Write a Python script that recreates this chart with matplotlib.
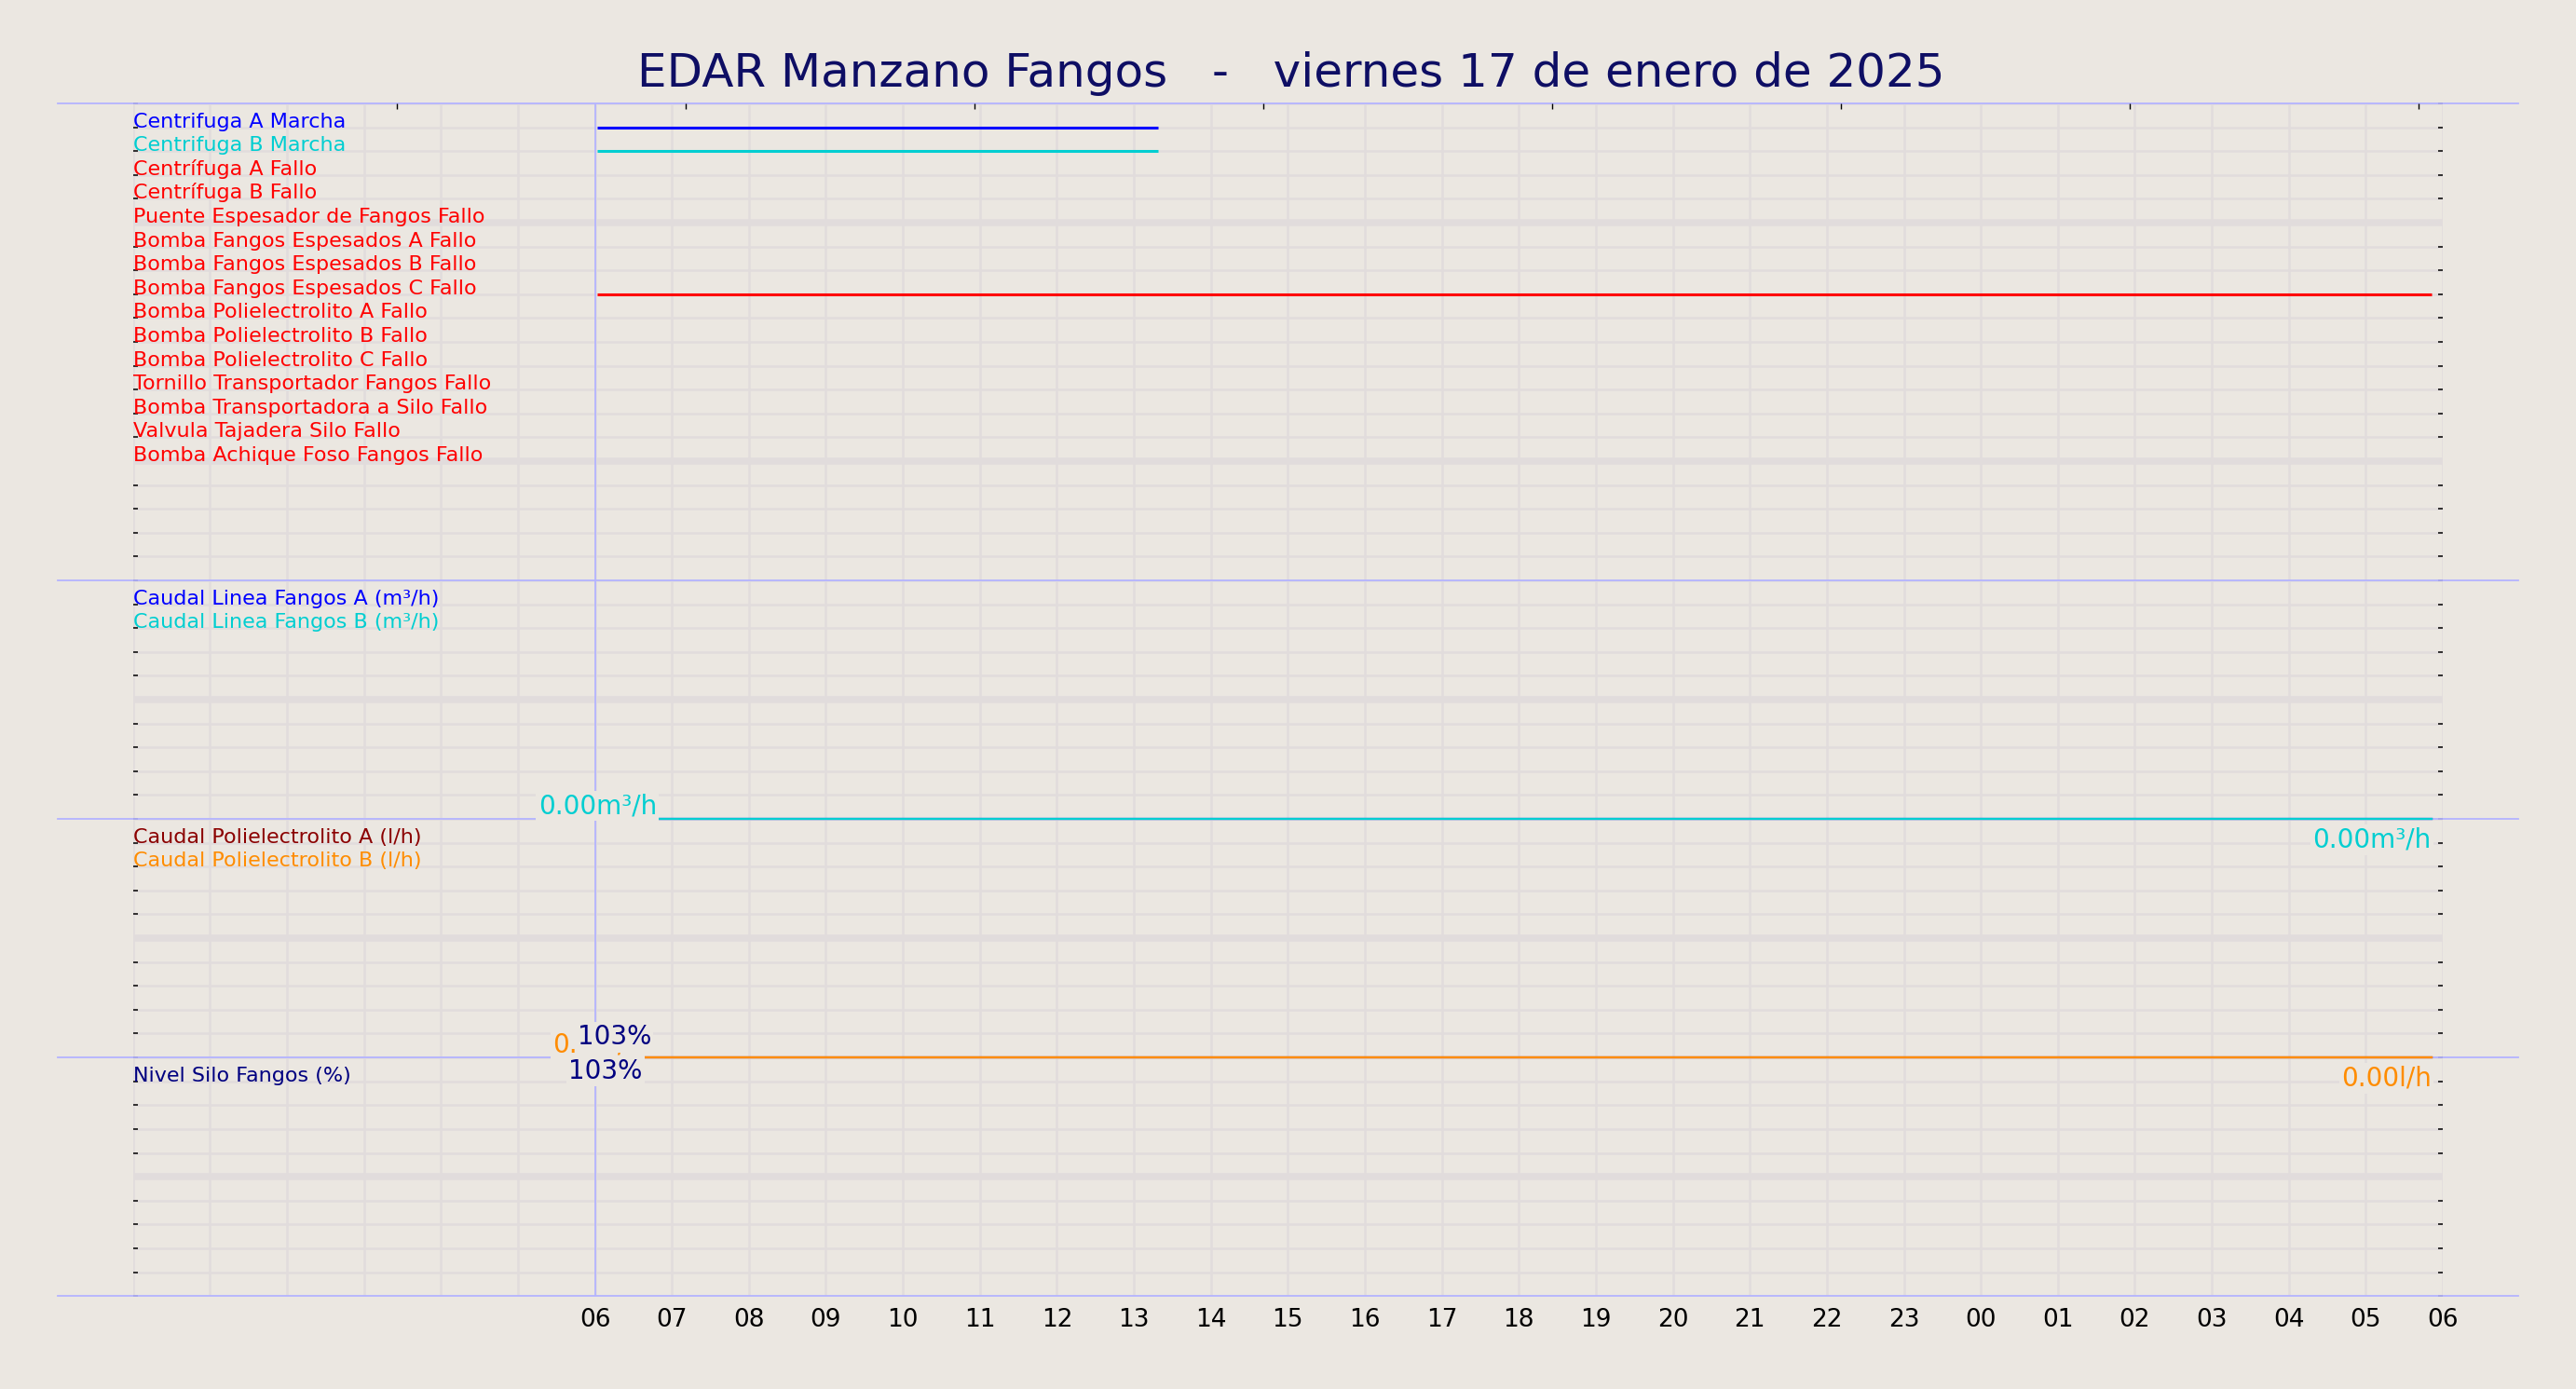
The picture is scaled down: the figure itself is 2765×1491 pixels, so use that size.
import matplotlib
matplotlib.use('Agg')
import matplotlib.pyplot as plt
import matplotlib.dates as mdates
from matplotlib.ticker import FuncFormatter
from datetime import datetime

# colours
bg = '#ebe7e1'
grid = '#e1dcdc'
sep = '#b4b4ff'

def t(s):
    return datetime.strptime(s, '%Y-%m-%d %H:%M')

# x range: 17 Jan 00:00 -> 18 Jan 06:00
t_start = '2025-01-17 00:00'
t_first_label = '2025-01-17 06:00'
t_end = '2025-01-18 06:00'

# digital signals (top panel), one row each
digital_names = ['Centrifuga A Marcha', 'Centrifuga B Marcha', 'Centrífuga A Fallo',
                 'Centrífuga B Fallo', 'Puente Espesador de Fangos Fallo',
                 'Bomba Fangos Espesados A Fallo', 'Bomba Fangos Espesados B Fallo',
                 'Bomba Fangos Espesados C Fallo', 'Bomba Polielectrolito A Fallo',
                 'Bomba Polielectrolito B Fallo', 'Bomba Polielectrolito C Fallo',
                 'Tornillo Transportador Fangos Fallo', 'Bomba Transportadora a Silo Fallo',
                 'Valvula Tajadera Silo Fallo', 'Bomba Achique Foso Fangos Fallo']
digital_colors = ['#0000ff', '#00ced1'] + ['#ff0000'] * 13
# periods where each signal is active
digital_spans = [
    [('2025-01-17 06:02', '2025-01-17 13:19')],
    [('2025-01-17 06:02', '2025-01-17 13:19')],
    [], [], [], [], [],
    [('2025-01-17 06:02', '2025-01-18 05:51')],
    [], [], [], [], [], [], [],
]

# analog: caudal linea fangos (m3/h)
caudal_t = ['2025-01-17 06:02', '2025-01-18 05:51']
caudal_a = [0.0, 0.0]
caudal_b = [0.0, 0.0]
caudal_max = 100.0

# analog: caudal polielectrolito (l/h)
poli_t = ['2025-01-17 06:02', '2025-01-18 05:51']
poli_a = [0.0, 0.0]
poli_b = [0.0, 0.0]
poli_max = 1000.0

# analog: nivel silo (%)
silo_t = ['2025-01-17 06:15', '2025-01-17 06:37']
silo_nivel = [103.0, 103.0]
silo_max = 100.0

# top secondary ticks
top_ticks = ['2025-01-17 03:26', '2025-01-17 07:11', '2025-01-17 10:56', '2025-01-17 14:41',
             '2025-01-17 18:26', '2025-01-17 22:11', '2025-01-18 01:56', '2025-01-18 05:41']

fig = plt.figure(figsize=(27.65, 14.91), dpi=100, facecolor=bg)
ax = fig.add_axes([0.0516, 0.067, 0.8967, 0.8585])
ax.set_facecolor(bg)
x0 = t(t_start)
ax.set_xlim(x0, t(t_end))
ax.set_ylim(0, 50)
for s in ax.spines.values():
    s.set_visible(False)

# grid
ax.set_axisbelow(True)
ax.set_yticks(range(51))
ax.xaxis.set_major_locator(mdates.HourLocator(interval=1))
first = mdates.date2num(t(t_first_label))
ax.xaxis.set_major_formatter(FuncFormatter(
    lambda v, p: '' if v < first - 1e-6 else mdates.num2date(v).strftime('%H')))
ax.grid(axis='y', color=grid, lw=1.8)
ax.grid(axis='x', color=grid, lw=1.8)
for y in [5, 15, 25, 35, 45]:
    ax.axhline(y, color=grid, lw=5.4, zorder=0.8)
ax.tick_params(axis='x', length=0, labelsize=19, pad=9, colors='black')
ax.tick_params(axis='y', direction='in', length=3.6, width=1.1, left=True, right=True,
               labelleft=False, color='black')

ax2 = ax.twiny()
ax2.set_xlim(ax.get_xlim())
ax2.set_xticks([mdates.date2num(t(s)) for s in top_ticks])
ax2.tick_params(axis='x', direction='in', length=4.3, width=1.0, labeltop=False, color='black')
for s in ax2.spines.values():
    s.set_visible(False)

# panel separators
for y in [0, 10, 20, 30, 50]:
    ax.axhline(y, xmin=-0.0327, xmax=1.0327, color=sep, lw=1.3, clip_on=False, zorder=3)
ax.axvline(t(t_first_label), color=sep, lw=1.3, zorder=3)

fs_row = 16
# top panel: digital
for i, name in enumerate(digital_names):
    y = 49 - i
    ax.text(x0, y, name, color=digital_colors[i], fontsize=fs_row, va='baseline', ha='left', zorder=5)
    for a, b in digital_spans[i]:
        ax.plot([t(a), t(b)], [y, y], color=digital_colors[i], lw=2.2, solid_capstyle='butt', zorder=4)

def value_labels(times, ys, vals, fmt, color):
    ax.annotate(fmt.format(vals[0]), (t(times[0]), ys[0]), xytext=(0, 0), textcoords='offset points',
                ha='center', va='bottom', fontsize=20, color=color, zorder=6,
                bbox=dict(boxstyle='square,pad=0.08', fc=bg, ec='none'))
    ax.annotate(fmt.format(vals[-1]), (t(times[-1]), ys[-1]), xytext=(0, -6), textcoords='offset points',
                ha='right', va='top', fontsize=20, color=color, zorder=6,
                bbox=dict(boxstyle='square,pad=0.08', fc=bg, ec='none'))

# panel 2: caudal linea fangos
ax.text(x0, 29, 'Caudal Linea Fangos A (m³/h)', color='#0000ff', fontsize=fs_row, va='baseline', zorder=5)
ax.text(x0, 28, 'Caudal Linea Fangos B (m³/h)', color='#00ced1', fontsize=fs_row, va='baseline', zorder=5)
for vals, c in [(caudal_a, '#0000ff'), (caudal_b, '#00ced1')]:
    ys = [20 + v / caudal_max * 10 for v in vals]
    ax.plot([t(s) for s in caudal_t], ys, color=c, lw=1.6, zorder=4)
    value_labels(caudal_t, ys, vals, '{:.2f}m³/h', c)

# panel 3: caudal polielectrolito
ax.text(x0, 19, 'Caudal Polielectrolito A (l/h)', color='#8b0000', fontsize=fs_row, va='baseline', zorder=5)
ax.text(x0, 18, 'Caudal Polielectrolito B (l/h)', color='#ff8c00', fontsize=fs_row, va='baseline', zorder=5)
for vals, c in [(poli_a, '#8b0000'), (poli_b, '#ff8c00')]:
    ys = [10 + v / poli_max * 10 for v in vals]
    ax.plot([t(s) for s in poli_t], ys, color=c, lw=1.6, zorder=4)
    value_labels(poli_t, ys, vals, '{:.2f}l/h', c)

# panel 4: nivel silo
ax.text(x0, 9, 'Nivel Silo Fangos (%)', color='#000080', fontsize=fs_row, va='baseline', zorder=5)
ys = [v / silo_max * 10 for v in silo_nivel]
ax.plot([t(s) for s in silo_t], ys, color='#000080', lw=1.6, zorder=4)
value_labels(silo_t, ys, silo_nivel, '{:.0f}%', '#000080')

fig.text(0.501, 0.947, 'EDAR Manzano Fangos   -   viernes 17 de enero de 2025',
         ha='center', va='center', fontsize=36, color='#0e0e64')

fig.savefig('out.png', dpi=100, facecolor=bg)
